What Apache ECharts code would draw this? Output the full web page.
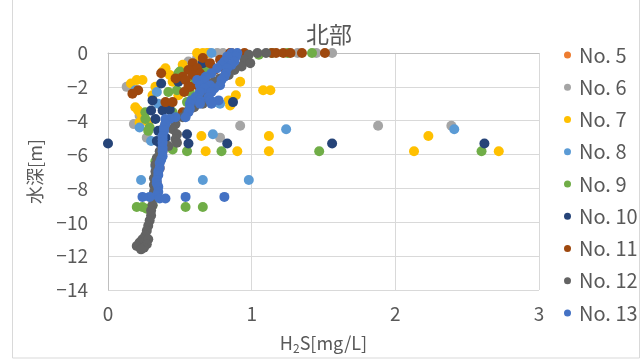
<!DOCTYPE html>
<html>
<head>
<meta charset="utf-8">
<script src="https://cdn.jsdelivr.net/npm/echarts@6/dist/echarts.min.js"></script>
<style>
html, body { margin: 0; padding: 0; background: #fff; }
#chart { width: 643px; height: 359px; }
</style>
</head>
<body>
<div id="chart"></div>
<script>
// 各測点の [H2S, 水深]
const seriesNames = ['No. 5', 'No. 6', 'No. 7', 'No. 8', 'No. 9', 'No. 10', 'No. 11', 'No. 12', 'No. 13'];
const seriesColors = ['#ED7D31', '#A5A5A5', '#FFC000', '#5B9BD5', '#70AD47', '#264478', '#9E480E', '#636363', '#4472C4'];

const no5 = [[0.86, 0], [0.82, -1.2], [0.64, -2.3], [0.57, -3.3], [0.39, -4.4], [0.38, -5.8], [0.36, -6.8], [0.34, -7.7]];

const no6 = [[0.70, 0], [0.76, 0], [0.80, 0], [1.32, 0], [1.45, 0], [1.56, 0], [0.62, -0.3], [0.56, -0.5],
  [0.40, -1.0], [0.13, -2.0], [0.22, -3.7], [0.18, -4.2], [0.45, -3.6], [0.27, -5.0],
  [0.92, -4.3], [0.78, -5.0], [1.88, -4.3], [2.39, -4.3]];

const no7 = [[0.62, 0], [0.66, 0], [0.69, 0], [0.64, -0.2], [0.52, -0.7], [0.40, -0.9], [0.38, -1.1], [0.43, -1.3],
  [0.20, -1.6], [0.24, -1.6], [0.16, -1.8], [0.45, -1.7], [0.33, -2.0], [0.31, -2.5], [0.49, -2.5], [0.57, -2.9],
  [0.19, -3.2], [0.21, -3.4], [0.23, -3.6], [0.24, -3.8], [0.22, -4.1], [0.28, -4.1],
  [0.92, -1.7], [1.08, -2.2], [1.13, -2.2], [0.89, -2.5], [0.84, -2.8], [0.85, -3.1],
  [0.65, -4.9], [1.12, -4.9], [2.23, -4.9], [0.68, -5.8], [0.90, -5.8], [1.12, -5.8], [2.13, -5.8], [2.72, -5.8]];

const no8 = [[0.72, 0], [0.19, -2.2], [0.34, -2.3], [0.74, -2.9], [0.78, -3.0], [0.35, -3.0], [0.22, -4.4],
  [0.73, -4.8], [1.24, -4.5], [2.41, -4.5], [0.30, -5.2], [0.33, -6.7], [0.23, -7.5], [0.66, -7.5], [0.98, -7.5]];

const no9 = [[1.05, -0.1], [1.14, 0], [1.25, 0], [1.42, 0], [0.68, -1.0], [0.50, -1.1], [0.49, -1.2], [0.60, -1.5],
  [0.48, -2.2], [0.42, -2.3], [0.57, -2.3], [0.55, -2.9], [0.26, -3.5], [0.45, -3.5], [0.26, -3.9], [0.29, -4.4],
  [0.28, -4.6], [0.45, -5.7], [0.55, -5.8], [0.79, -5.8], [1.47, -5.8], [2.60, -5.8], [0.33, -6.4],
  [0.20, -9.1], [0.24, -9.1], [0.31, -9.0], [0.27, -9.2], [0.54, -9.1], [0.66, -9.1]];

const no10 = [[0.66, -0.6], [0.37, -1.8], [0.49, -1.7], [0.31, -2.8], [0.87, -2.9], [0.30, -3.4], [0.38, -3.4],
  [0.43, -3.35], [0.33, -3.9], [0.40, -4.2], [0.35, -4.6], [0.55, -4.8], [0.40, -5.0], [0.34, -5.2], [0.36, -5.3],
  [0, -5.35], [0.56, -5.35], [0.83, -5.35], [1.56, -5.35], [2.62, -5.35]];

const no11 = [[0.85, 0], [0.95, 0], [1.14, 0], [1.17, 0], [1.22, 0], [1.27, 0], [1.35, 0], [1.51, 0],
  [0.66, -0.3], [0.78, -0.4], [0.88, -0.3], [0.59, -0.6], [0.71, -0.6], [0.80, -0.8], [0.62, -0.9], [0.56, -1.0],
  [0.74, -1.0], [0.64, -1.2], [0.37, -1.2], [0.59, -1.3], [0.52, -1.4], [0.47, -1.5], [0.54, -1.6], [0.68, -1.6],
  [0.62, -1.9], [0.57, -2.0], [0.56, -2.0], [0.53, -2.3], [0.21, -2.2], [0.17, -2.4], [0.40, -2.9], [0.45, -2.9],
  [0.52, -3.5]];

const no12 = [[1.10, 0], [1.04, 0], [0.98, -0.1], [0.95, -0.4], [0.99, -0.6], [0.93, -0.8], [0.88, -1.0],
  [0.84, -1.3], [0.78, -1.5], [0.74, -1.7], [0.71, -2.0], [0.69, -2.3], [0.66, -2.6], [0.66, -3.0], [0.60, -3.2],
  [0.55, -3.5], [0.52, -3.8], [0.47, -4.2], [0.45, -4.5], [0.48, -4.8], [0.47, -5.1], [0.48, -5.3], [0.42, -5.5],
  [0.36, -5.8], [0.34, -6.2], [0.33, -6.6], [0.33, -7.0], [0.32, -7.4], [0.32, -7.8], [0.32, -8.2], [0.31, -8.6],
  [0.31, -9.0], [0.30, -9.3], [0.30, -9.6], [0.29, -9.9], [0.28, -10.2], [0.27, -10.5], [0.26, -10.8],
  [0.24, -11.0], [0.28, -11.0], [0.22, -11.2], [0.27, -11.3], [0.20, -11.4], [0.25, -11.5], [0.23, -11.6]];

const no13 = [[0.86, 0], [0.90, 0], [0.89, -0.2], [0.83, -0.2], [0.88, -0.5], [0.81, -0.5], [0.86, -0.7],
  [0.79, -0.7], [0.83, -0.9], [0.76, -0.9], [0.82, -1.2], [0.72, -1.2], [0.81, -1.4], [0.68, -1.4], [0.79, -1.6],
  [0.62, -1.6], [0.66, -1.6], [0.78, -1.9], [0.71, -1.9], [0.64, -1.9], [0.74, -2.1], [0.67, -2.1], [0.72, -2.3],
  [0.64, -2.3], [0.70, -2.6], [0.61, -2.6], [0.64, -2.8], [0.58, -2.8], [0.71, -2.8], [0.77, -2.8], [0.57, -3.0],
  [0.64, -3.0], [0.72, -3.0], [0.57, -3.3], [0.56, -3.5], [0.54, -3.8], [0.47, -3.8], [0.43, -3.9], [0.40, -3.9],
  [0.40, -4.2], [0.39, -4.4], [0.39, -4.6], [0.38, -4.9], [0.38, -5.1], [0.38, -5.3], [0.38, -5.6], [0.38, -5.8],
  [0.38, -6.1], [0.37, -6.3], [0.36, -6.5], [0.36, -6.8], [0.35, -7.0], [0.35, -7.2], [0.34, -7.5], [0.34, -7.7],
  [0.35, -7.9], [0.35, -8.2], [0.34, -8.4], [0.29, -8.5], [0.24, -8.5], [0.36, -8.6], [0.40, -8.6],
  [0.54, -8.5], [0.81, -8.5]];

const seriesData = [no5, no6, no7, no8, no9, no10, no11, no12, no13];

const xTicks = { min: 0, max: 3, interval: 1 };
const yTicks = { min: -14, max: 0, interval: 2 };

const textColor = '#595959';
const font = "'Noto Sans CJK JP', sans-serif";

const chart = echarts.init(document.getElementById('chart'));

const option = {
  animation: false,
  title: {
    text: '北部',
    left: 324,
    textAlign: 'center',
    top: 18,
    textStyle: { fontFamily: font, fontSize: 23, fontWeight: 'normal', color: textColor }
  },
  legend: {
    orient: 'vertical',
    left: 559,
    top: 38,
    icon: 'circle',
    itemWidth: 7,
    itemHeight: 7,
    itemGap: 8.25,
    data: seriesNames,
    textStyle: { fontFamily: font, fontSize: 20, lineHeight: 24, color: textColor, padding: [0, 0, 0, 3] }
  },
  grid: { left: 108, right: 104, top: 53, bottom: 69 },
  xAxis: [
    {
      type: 'value',
      min: xTicks.min,
      max: xTicks.max,
      interval: xTicks.interval,
      position: 'bottom',
      name: 'H{sub|2}S[mg/L]',
      nameLocation: 'middle',
      nameGap: 43,
      nameTextStyle: {
        fontFamily: font, fontSize: 18, color: textColor,
        rich: { sub: { fontFamily: font, fontSize: 12, color: textColor, padding: [9, 0, 0, 0] } }
      },
      axisLine: { show: false },
      axisTick: { show: false },
      axisLabel: { margin: 14, fontFamily: font, fontSize: 19, color: textColor },
      splitLine: { show: true, lineStyle: { color: '#D9D9D9', width: 1 } }
    },
    {
      type: 'value',
      min: xTicks.min,
      max: xTicks.max,
      position: 'top',
      axisLine: { show: true, onZero: false, lineStyle: { color: '#BFBFBF', width: 1 } },
      axisTick: { show: false },
      axisLabel: { show: false },
      splitLine: { show: false }
    }
  ],
  yAxis: {
    type: 'value',
    min: yTicks.min,
    max: yTicks.max,
    interval: yTicks.interval,
    name: '水深[m]',
    nameLocation: 'middle',
    nameGap: 64,
    nameTextStyle: { fontFamily: font, fontSize: 18, color: textColor },
    axisLine: { show: true, onZero: false, lineStyle: { color: '#BFBFBF', width: 1 } },
    axisTick: { show: false },
    axisLabel: {
      margin: 20,
      fontFamily: font,
      fontSize: 19,
      color: textColor,
      formatter: v => String(v).replace('-', '\u2212')
    },
    splitLine: { show: true, lineStyle: { color: '#D9D9D9', width: 1 } }
  },
  graphic: [
    {
      type: 'rect',
      shape: { x: 12.5, y: -10, width: 627, height: 368 },
      style: { fill: 'none', stroke: '#D9D9D9', lineWidth: 1 },
      silent: true
    }
  ],
  series: seriesNames.map((name, i) => ({
    name: name,
    type: 'scatter',
    xAxisIndex: 0,
    symbol: 'circle',
    symbolSize: 10,
    itemStyle: { color: seriesColors[i], opacity: 1 },
    emphasis: { disabled: true },
    data: seriesData[i]
  }))
};

chart.setOption(option);
</script>
</body>
</html>
